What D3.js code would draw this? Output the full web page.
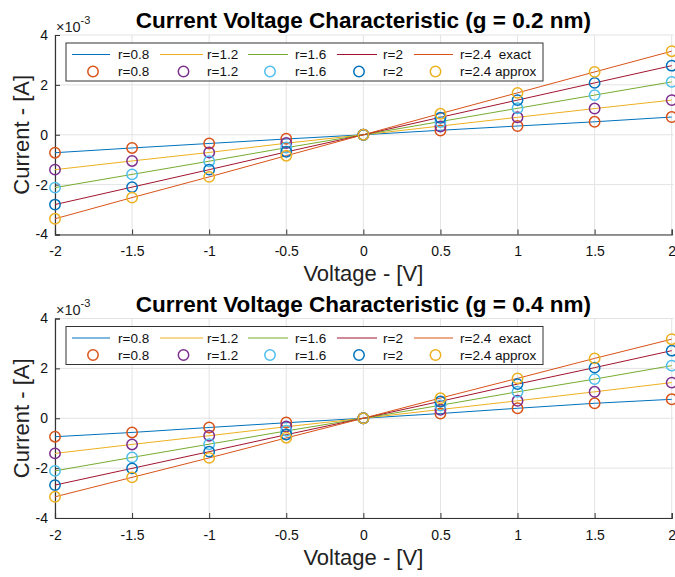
<!DOCTYPE html>
<html>
<head>
<meta charset="utf-8">
<script src="https://cdn.jsdelivr.net/npm/d3@7"></script>
<style>
  html, body { margin: 0; padding: 0; background: #fff; }
  svg { display: block; font-family: "Liberation Sans", Arial, Helvetica, sans-serif; }
</style>
</head>
<body>
<svg id="chart" width="675" height="577"></svg>
<script>
// ---- data ----
const voltage = [-2, -1.5, -1, -0.5, 0, 0.5, 1, 1.5, 2];
const radii = ["0.8", "1.2", "1.6", "2", "2.4"];
const xTicks = [-2, -1.5, -1, -0.5, 0, 0.5, 1, 1.5, 2];
const yTicks = [-4, -2, 0, 2, 4];
const titles = ["Current Voltage Characteristic (g = 0.2 nm)", "Current Voltage Characteristic (g = 0.4 nm)"];

// g = 0.2 nm (current in 1e-3 A)
const exactG02 = [
  [-0.72, -0.53, -0.35, -0.17, 0, 0.18, 0.35, 0.52, 0.71],
  [-1.40, -1.05, -0.71, -0.34, 0, 0.35, 0.70, 1.05, 1.39],
  [-2.12, -1.59, -1.06, -0.52, 0, 0.53, 1.06, 1.59, 2.12],
  [-2.80, -2.10, -1.40, -0.69, 0, 0.70, 1.39, 2.08, 2.77],
  [-3.37, -2.52, -1.69, -0.84, 0, 0.85, 1.68, 2.52, 3.35]
];
const approxG02 = [
  [-0.72, -0.53, -0.35, -0.16, 0, 0.17, 0.35, 0.52, 0.71],
  [-1.40, -1.05, -0.71, -0.33, 0, 0.33, 0.70, 1.05, 1.39],
  [-2.12, -1.59, -1.06, -0.51, 0, 0.51, 1.06, 1.59, 2.12],
  [-2.80, -2.10, -1.40, -0.68, 0, 0.68, 1.39, 2.08, 2.77],
  [-3.37, -2.52, -1.69, -0.84, 0, 0.84, 1.68, 2.52, 3.35]
];
// g = 0.4 nm
const exactG04 = [
  [-0.74, -0.57, -0.37, -0.18, 0, 0.19, 0.40, 0.60, 0.76],
  [-1.41, -1.05, -0.70, -0.34, 0, 0.35, 0.70, 1.06, 1.43],
  [-2.11, -1.57, -1.04, -0.51, 0, 0.52, 1.06, 1.57, 2.11],
  [-2.68, -2.01, -1.34, -0.66, 0, 0.68, 1.37, 2.03, 2.71],
  [-3.15, -2.37, -1.59, -0.79, 0, 0.81, 1.60, 2.40, 3.17]
];
const approxG04 = [
  [-0.74, -0.57, -0.37, -0.17, 0, 0.19, 0.40, 0.60, 0.76],
  [-1.41, -1.05, -0.70, -0.33, 0, 0.34, 0.70, 1.06, 1.43],
  [-2.11, -1.57, -1.04, -0.50, 0, 0.51, 1.06, 1.57, 2.11],
  [-2.68, -2.01, -1.34, -0.65, 0, 0.67, 1.37, 2.03, 2.71],
  [-3.15, -2.37, -1.59, -0.78, 0, 0.80, 1.60, 2.40, 3.17]
];

const lineColors = ["#0072BD", "#EDB120", "#77AC30", "#A2142F", "#D95319"];
const markerColors = ["#D95319", "#7E2F8E", "#4DBEEE", "#0072BD", "#EDB120"];

// ---- layout ----
const svg = d3.select("#chart");
const panels = [
  { top: 35, bottom: 234.5, exact: exactG02, approx: approxG02, title: titles[0] },
  { top: 318.5, bottom: 518, exact: exactG04, approx: approxG04, title: titles[1] }
];
const left = 55, right = 671.7;
const axisColor = "#333";
const gridColor = "#e3e3e3";

const x = d3.scaleLinear().domain([-2, 2]).range([left, right]);

panels.forEach(p => {
  const y = d3.scaleLinear().domain([-4, 4]).range([p.bottom, p.top]);
  const g = svg.append("g");

  // grid
  g.append("g").selectAll("line").data(xTicks).join("line")
    .attr("x1", d => x(d)).attr("x2", d => x(d))
    .attr("y1", p.top).attr("y2", p.bottom)
    .attr("stroke", gridColor).attr("stroke-width", 1);
  g.append("g").selectAll("line").data(yTicks).join("line")
    .attr("x1", left).attr("x2", right + 2)
    .attr("y1", d => y(d)).attr("y2", d => y(d))
    .attr("stroke", gridColor).attr("stroke-width", 1);

  // axes
  const xAxis = d3.axisBottom(x).tickValues(xTicks).tickSize(-5).tickPadding(12)
    .tickFormat(d => d3.format("")(d).replace("\u2212", "-"));
  const gx = g.append("g").attr("transform", `translate(0,${p.bottom})`).call(xAxis);
  const yAxis = d3.axisLeft(y).tickValues(yTicks).tickSize(-5).tickPadding(7)
    .tickFormat(d => String(d));
  const gy = g.append("g").attr("transform", `translate(${left},0)`).call(yAxis);
  [gx, gy].forEach(a => {
    a.select(".domain").attr("stroke", axisColor).attr("stroke-width", 1.2);
    a.selectAll(".tick line").attr("stroke", axisColor);
    a.selectAll(".tick text").attr("fill", "#111").attr("font-size", 14)
      .attr("font-family", "Liberation Sans, Arial, sans-serif");
  });

  // exponent label
  const ex = g.append("text").attr("x", 56).attr("y", p.top - 3.5)
    .attr("font-size", 14.5).attr("fill", "#222");
  ex.append("tspan").text("\u00d710");
  ex.append("tspan").attr("dy", -8).attr("font-size", 11).text("-3");

  // title
  g.append("text").attr("x", (left + right) / 2).attr("y", p.top - 7)
    .attr("text-anchor", "middle").attr("font-weight", "bold")
    .attr("font-size", 22.5).attr("fill", "#000").text(p.title);

  // axis labels
  g.append("text").attr("x", (left + right) / 2).attr("y", p.bottom + 46.5)
    .attr("text-anchor", "middle").attr("font-size", 22).attr("fill", "#222")
    .text("Voltage - [V]");
  g.append("text")
    .attr("transform", `translate(29,${(p.top + p.bottom) / 2}) rotate(-90)`)
    .attr("text-anchor", "middle").attr("font-size", 22).attr("fill", "#222")
    .text("Current - [A]");

  // lines
  const line = d3.line().x((d, i) => x(voltage[i])).y(d => y(d));
  g.append("g").selectAll("path").data(p.exact).join("path")
    .attr("d", d => line(d)).attr("fill", "none")
    .attr("stroke", (d, i) => lineColors[i]).attr("stroke-width", 1);

  // markers
  p.approx.forEach((series, si) => {
    g.append("g").selectAll("circle").data(series).join("circle")
      .attr("cx", (d, i) => x(voltage[i])).attr("cy", d => y(d)).attr("r", 5.2)
      .attr("fill", "none").attr("stroke", markerColors[si]).attr("stroke-width", 1.5);
  });

  // legend
  const lx = 66, ly = p.top + 8, lw = 477, lh = 38;
  const lg = g.append("g");
  lg.append("rect").attr("x", lx).attr("y", ly).attr("width", lw).attr("height", lh)
    .attr("fill", "#fff").attr("stroke", "#333").attr("stroke-width", 1);
  const cols = [
    { x1: 72, x2: 110, tx: 118 },
    { x1: 160, x2: 203, tx: 207 },
    { x1: 248, x2: 288, tx: 295 },
    { x1: 337, x2: 377, tx: 383 },
    { x1: 414, x2: 453, tx: 460 }
  ];
  const row1 = ly + 11.5, row2 = ly + 28.5;
  radii.forEach((r, i) => {
    const c = cols[i];
    lg.append("line").attr("x1", c.x1).attr("x2", c.x2).attr("y1", row1).attr("y2", row1)
      .attr("stroke", lineColors[i]).attr("stroke-width", 1);
    lg.append("text").attr("x", c.tx).attr("y", row1 + 4.5).attr("font-size", 13.5)
      .attr("fill", "#111").attr("xml:space", "preserve")
      .text(i === 4 ? "r=" + r + "  exact" : "r=" + r);
    lg.append("circle").attr("cx", (c.x1 + c.x2) / 2 + 2).attr("cy", row2).attr("r", 5.2)
      .attr("fill", "none").attr("stroke", markerColors[i]).attr("stroke-width", 1.5);
    lg.append("text").attr("x", c.tx).attr("y", row2 + 4.5).attr("font-size", 13.5)
      .attr("fill", "#111")
      .text(i === 4 ? "r=" + r + " approx" : "r=" + r);
  });
});
</script>
</body>
</html>
